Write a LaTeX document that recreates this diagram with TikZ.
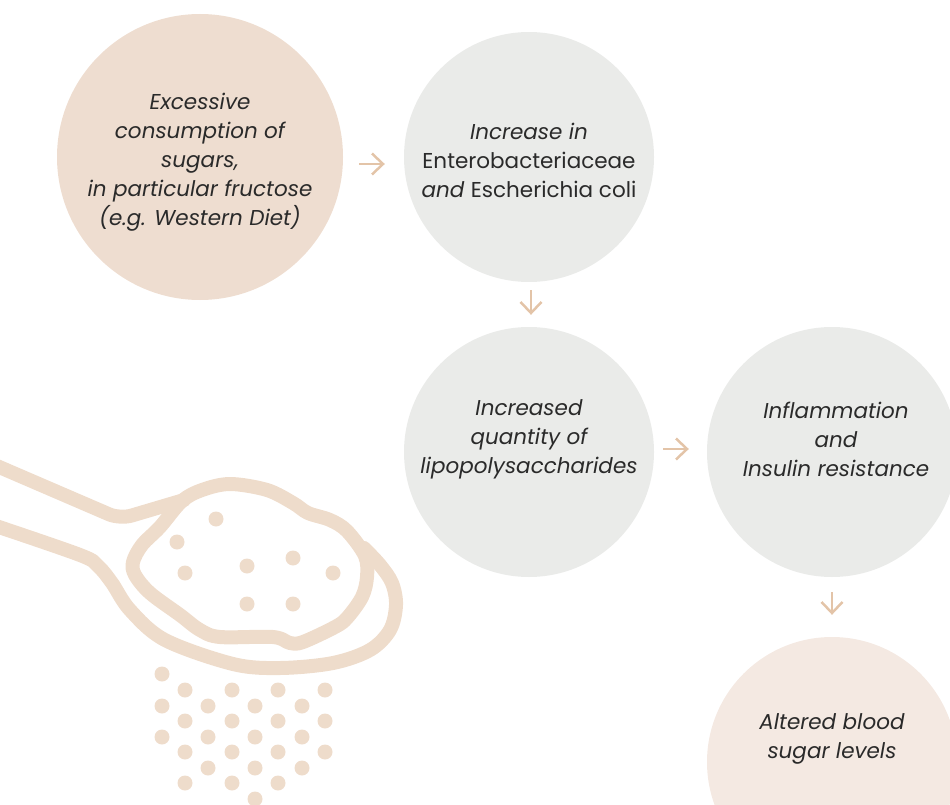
\documentclass[tikz,border=0pt]{standalone}
\usepackage{fontspec}
\setmainfont{Poppins}
\usetikzlibrary{arrows.meta}

\definecolor{sand}{HTML}{EEDDD0}
\definecolor{paleSand}{HTML}{F4E9E2}
\definecolor{mist}{HTML}{EAEBE9}
\definecolor{arrowTan}{HTML}{E3C4A8}
\definecolor{spoonTan}{HTML}{EEDCCB}
\definecolor{ink}{HTML}{2A2A2A}

\tikzset{
  bubble/.style={circle, fill=#1, minimum size=250pt, inner sep=0pt},
  txt/.style={align=center, text=ink, font=\fontsize{21.5}{29}\selectfont\itshape},
  flow/.style={arrowTan, line width=2.5pt, -{Straight Barb[length=11pt,width=21pt]}},
  spoonline/.style={spoonTan, line width=14pt, line cap=round, line join=round},
  grain/.style={fill=spoonTan},
}

\begin{document}
\begin{tikzpicture}[x=1pt, y=-1pt]
\clip (0,0) rectangle (950,805);

% bubbles
\node[bubble=sand, minimum size=286pt] (c1) at (200,157) {};
\node[bubble=mist] (c2) at (529,157) {};
\node[bubble=mist] (c3) at (529,452) {};
\node[bubble=mist] (c4) at (832,452) {};
\node[bubble=paleSand] (c5) at (832,762) {};

\node[txt] (t1) at ([yshift=-5pt]c1.center) {Excessive\\ consumption of\\ sugars,\\ in particular fructose\\ (e.g. Western Diet)};
\node[txt] (t2) at ([yshift=-3pt]c2.center) {Increase in\\ \upshape Enterobacteriaceae\\ and \upshape Escherichia coli};
\node[txt] (t3) at ([yshift=13pt]c3.center) {Increased\\ quantity of\\ lipopolysaccharides};
\node[txt] (t4) at ([xshift=4pt, yshift=13pt]c4.center) {Inflammation\\ and\\ Insulin resistance};
\node[txt] (t5) at ([yshift=23pt]c5.center) {Altered blood\\ sugar levels};

% arrows
\draw[flow, shorten <=16pt, shorten >=19pt] ([yshift=-7pt]c1.east) -- ([yshift=-7pt]c2.west);
\draw[flow, shorten <=8pt, shorten >=12pt] ([xshift=2pt]c2.south) -- ([xshift=2pt]c3.north);
\draw[flow, shorten <=9pt, shorten >=18pt] ([yshift=3pt]c3.east) -- ([yshift=3pt]c4.west);
\draw[flow, shorten <=15pt, shorten >=22pt] (c4.south) -- (c5.north);

% spoon
\draw[spoonline, rounded corners=12pt] (-10,463) -- (120,519) -- (184,500);
\draw[spoonline] plot[smooth, tension=0.55] coordinates {(-10,524) (80,555) (98,566) (112,583) (130,610) (165,640) (233,664) (280,668) (333,663) (370,650) (390,630) (396,605) (392,583) (380,565) (364,548)};
\draw[spoonline] plot[smooth cycle, tension=0.55] coordinates {(182,501) (202,490) (230,484) (267,490) (293,503) (308,513) (330,520) (347,531) (365,556) (367,577) (362,597) (347,618) (335,627) (303,642) (290,643) (273,637) (220,637) (200,630) (180,615) (150,593) (135,575) (133,562) (142,545) (160,527)};

% sugar in the bowl
\foreach \x/\y in {216/519, 177/542, 185/573, 247/566, 293/558, 333/573, 247/604, 293/604}
  \fill[grain] (\x,\y) circle (7.5pt);

% falling grains
\foreach \x/\y in {162/674,
  185/690, 232/690, 278/690, 325/690,
  162/706, 208/706, 255/706, 302/706,
  185/721, 232/721, 278/721, 325/721,
  162/737, 208/737, 255/737, 302/737,
  185/752, 232/752, 278/752, 325/752,
  208/768, 255/768, 302/768,
  185/783, 232/783, 278/783,
  255/799}
  \fill[grain] (\x,\y) circle (7.5pt);
\end{tikzpicture}
\end{document}
